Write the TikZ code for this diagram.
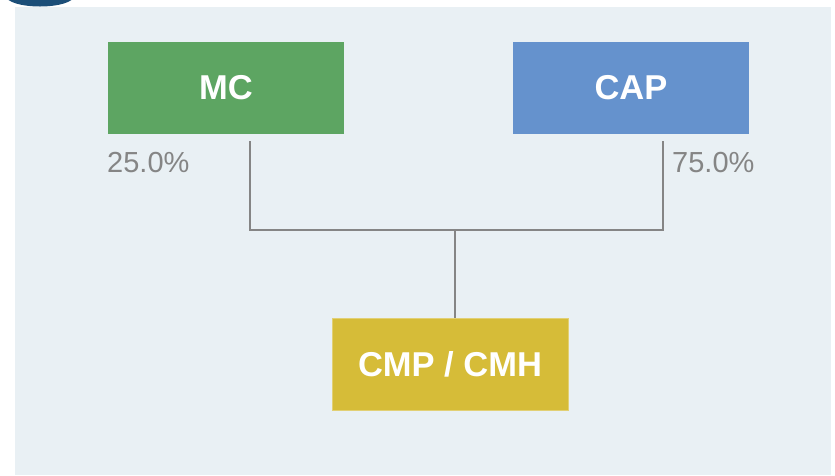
\documentclass[tikz,border=0pt]{standalone}
\usepackage{fontspec}
\setmainfont{Liberation Sans}
\definecolor{panel}{HTML}{E9F0F4}
\definecolor{mcgreen}{HTML}{5DA562}
\definecolor{capblue}{HTML}{6592CD}
\definecolor{cmpgold}{HTML}{D6BC38}
\definecolor{linegray}{HTML}{858585}
\definecolor{darkblue}{HTML}{1B4E78}
\begin{document}
\begin{tikzpicture}[x=1pt,y=-1pt,
  entity/.style={minimum width=236pt,minimum height=92pt,inner sep=0pt,text=white,font=\fontsize{34.5}{34.5}\selectfont\bfseries},
  pct/.style={text=linegray,inner sep=0pt,font=\fontsize{29}{29}\selectfont},
  link/.style={draw=linegray,line width=2pt}]
\useasboundingbox (0,0) rectangle (835,475);
\fill[white] (0,0) rectangle (835,475);
\begin{scope}
\clip (0,0) rectangle (835,7);
\fill[darkblue] (40,-4) ellipse (34 and 10.5);
\end{scope}
\fill[panel] (15,7) rectangle (831,475);
\node[entity,fill=mcgreen] (mc) at (226,88) {MC};
\node[entity,fill=capblue] (cap) at (631,88) {CAP};
\node[entity,fill=cmpgold,draw=cmpgold!70!white,line width=0.8pt] (cmp) at (450,364) {CMP / CMH};
\node[pct,anchor=base west] (p1) at (107,172) {25.0\%};
\node[pct,anchor=base west] (p2) at (672,172) {75.0\%};
\coordinate (lt) at (250,141);
\coordinate (rt) at (663,141);
\coordinate (lb) at (250,230);
\coordinate (rb) at (663,230);
\coordinate (mid) at (455,230);
\draw[link] (lt) -- (lb) -- (rb) -- (rt);
\draw[link] (mid) -- (mid |- cmp.north);
\end{tikzpicture}
\end{document}
